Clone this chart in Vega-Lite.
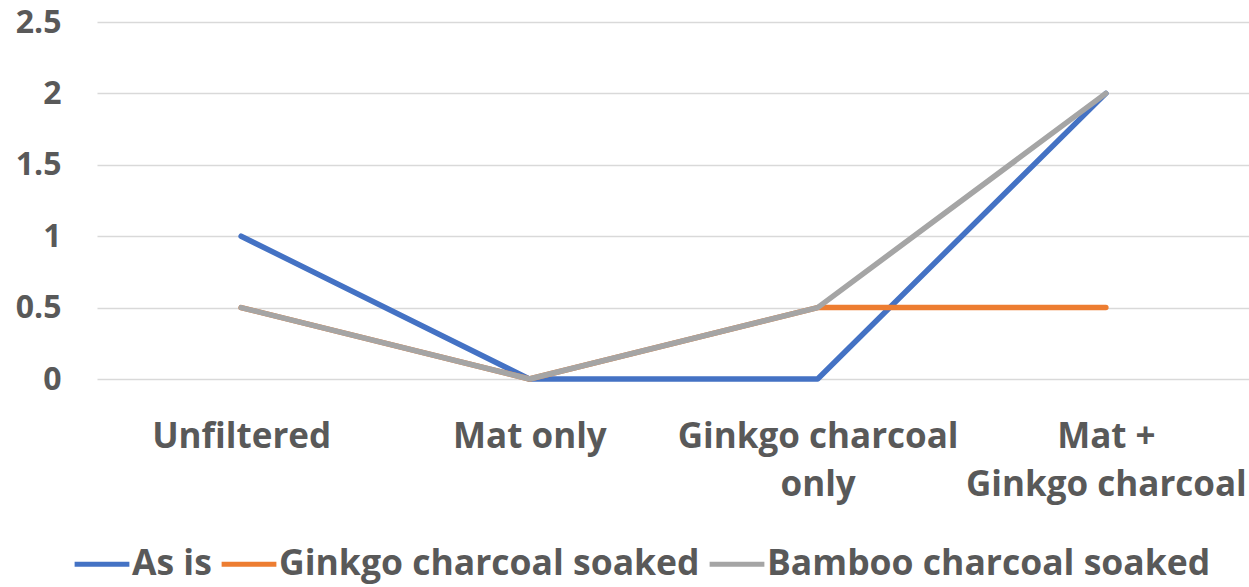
{
  "$schema": "https://vega.github.io/schema/vega-lite/v6.json",
  "width": 1153,
  "height": 357,
  "autosize": "none",
  "padding": {"left": 97, "top": 22, "right": 0, "bottom": 208},
  "background": "white",
  "config": {
    "view": {"stroke": null},
    "font": "Open Sans"
  },
  "data": {
    "values": [
      {"category": "Unfiltered", "series": "As is", "value": 1},
      {"category": "Mat only", "series": "As is", "value": 0},
      {"category": "Ginkgo charcoal only", "series": "As is", "value": 0},
      {"category": "Mat + Ginkgo charcoal", "series": "As is", "value": 2},
      {"category": "Unfiltered", "series": "Ginkgo charcoal soaked", "value": 0.5},
      {"category": "Mat only", "series": "Ginkgo charcoal soaked", "value": 0},
      {"category": "Ginkgo charcoal only", "series": "Ginkgo charcoal soaked", "value": 0.5},
      {"category": "Mat + Ginkgo charcoal", "series": "Ginkgo charcoal soaked", "value": 0.5},
      {"category": "Unfiltered", "series": "Bamboo charcoal soaked", "value": 0.5},
      {"category": "Mat only", "series": "Bamboo charcoal soaked", "value": 0},
      {"category": "Ginkgo charcoal only", "series": "Bamboo charcoal soaked", "value": 0.5},
      {"category": "Mat + Ginkgo charcoal", "series": "Bamboo charcoal soaked", "value": 2}
    ]
  },
  "encoding": {
    "x": {
      "field": "category",
      "type": "nominal",
      "sort": ["Unfiltered", "Mat only", "Ginkgo charcoal only", "Mat + Ginkgo charcoal"],
      "scale": {"type": "point", "padding": 0.5},
      "axis": {
        "title": null,
        "domain": false,
        "ticks": false,
        "grid": false,
        "labelAngle": 0,
        "labelFont": "Open Sans",
        "labelFontWeight": "bold",
        "labelFontSize": 35,
        "labelColor": "#595959",
        "labelPadding": 40,
        "labelLineHeight": 48,
        "labelLimit": 0,
        "labelExpr": "datum.label == 'Ginkgo charcoal only' ? ['Ginkgo charcoal', 'only'] : datum.label == 'Mat + Ginkgo charcoal' ? ['Mat +', 'Ginkgo charcoal'] : datum.label"
      }
    },
    "y": {
      "field": "value",
      "type": "quantitative",
      "scale": {"domain": [0, 2.5], "nice": false},
      "axis": {
        "title": null,
        "values": [0, 0.5, 1, 1.5, 2, 2.5],
        "format": "~g",
        "domain": false,
        "ticks": false,
        "grid": true,
        "gridColor": "#D9D9D9",
        "gridWidth": 1.5,
        "labelFont": "Open Sans",
        "labelFontWeight": "bold",
        "labelFontSize": 32,
        "labelColor": "#595959",
        "labelPadding": 36
      }
    },
    "color": {
      "field": "series",
      "type": "nominal",
      "scale": {
        "domain": ["As is", "Ginkgo charcoal soaked", "Bamboo charcoal soaked"],
        "range": ["#4472C4", "#ED7D31", "#A5A5A5"]
      },
      "legend": {
        "title": null,
        "orient": "none",
        "direction": "horizontal",
        "legendX": -25,
        "legendY": 512,
        "symbolType": "stroke",
        "symbolSize": 3000,
        "symbolStrokeWidth": 5,
        "labelFont": "Open Sans",
        "labelFontWeight": "bold",
        "labelFontSize": 35.5,
        "labelColor": "#595959",
        "labelOffset": 0,
        "columnPadding": -1,
        "labelLimit": 0
      }
    }
  },
  "layer": [
    {
      "transform": [{"filter": "datum.series == 'As is'"}],
      "mark": {"type": "line", "strokeWidth": 5.5, "strokeCap": "round", "strokeJoin": "round"}
    },
    {
      "transform": [{"filter": "datum.series == 'Ginkgo charcoal soaked'"}],
      "mark": {"type": "line", "strokeWidth": 5.5, "strokeCap": "round", "strokeJoin": "round"}
    },
    {
      "transform": [{"filter": "datum.series == 'Bamboo charcoal soaked'"}],
      "mark": {"type": "line", "strokeWidth": 5.5, "strokeCap": "round", "strokeJoin": "round"}
    }
  ]
}
